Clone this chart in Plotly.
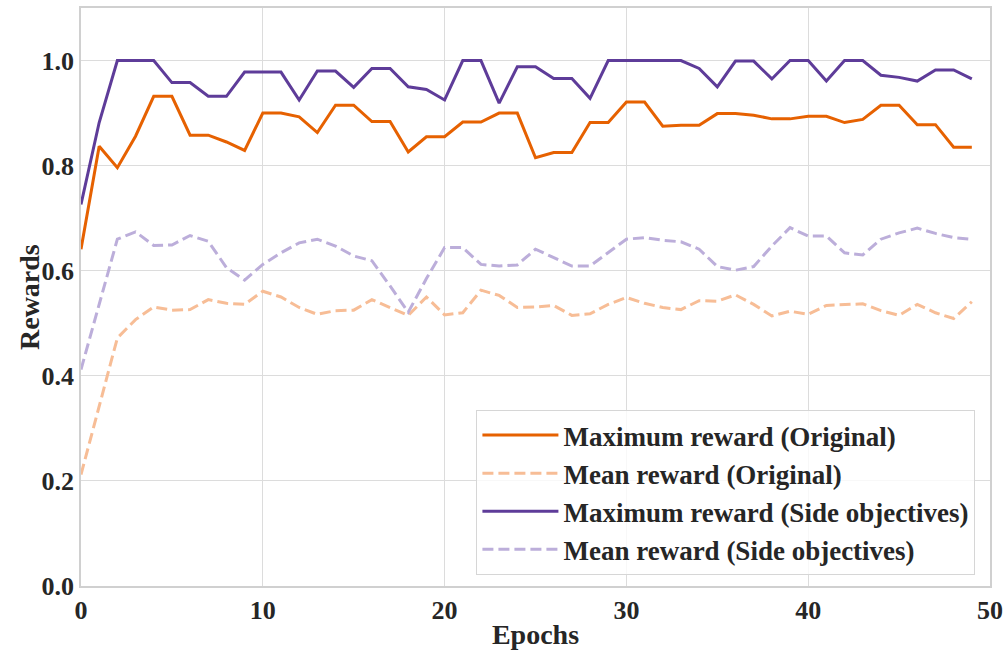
import plotly.graph_objects as go

epochs = list(range(50))

max_original = [0.641, 0.837, 0.796, 0.856, 0.932, 0.932, 0.858, 0.858, 0.845, 0.829,
                0.900, 0.900, 0.893, 0.863, 0.915, 0.915, 0.884, 0.884, 0.826, 0.855,
                0.855, 0.883, 0.883, 0.900, 0.900, 0.815, 0.825, 0.825, 0.882, 0.882,
                0.921, 0.921, 0.875, 0.877, 0.877, 0.899, 0.899, 0.896, 0.889, 0.889,
                0.894, 0.894, 0.882, 0.888, 0.915, 0.915, 0.878, 0.878, 0.835, 0.835]

mean_original = [0.212, 0.344, 0.472, 0.507, 0.531, 0.525, 0.526, 0.545, 0.538, 0.536,
                 0.561, 0.550, 0.530, 0.517, 0.524, 0.525, 0.545, 0.530, 0.515, 0.550,
                 0.516, 0.520, 0.563, 0.553, 0.530, 0.531, 0.534, 0.515, 0.518, 0.536,
                 0.549, 0.538, 0.530, 0.526, 0.543, 0.542, 0.554, 0.536, 0.514, 0.523,
                 0.517, 0.534, 0.536, 0.537, 0.524, 0.515, 0.536, 0.520, 0.509, 0.541]

max_side = [0.726, 0.882, 1.000, 1.000, 1.000, 0.958, 0.958, 0.932, 0.932, 0.978,
            0.978, 0.978, 0.925, 0.980, 0.980, 0.949, 0.985, 0.985, 0.950, 0.945,
            0.925, 1.000, 1.000, 0.919, 0.988, 0.988, 0.966, 0.966, 0.928, 1.000,
            1.000, 1.000, 1.000, 1.000, 0.985, 0.950, 0.999, 0.999, 0.965, 1.000,
            1.000, 0.961, 1.000, 1.000, 0.972, 0.968, 0.961, 0.982, 0.982, 0.965]

mean_side = [0.412, 0.535, 0.660, 0.674, 0.648, 0.649, 0.667, 0.656, 0.606, 0.582,
             0.612, 0.634, 0.653, 0.660, 0.647, 0.628, 0.619, 0.571, 0.521, 0.585,
             0.644, 0.644, 0.612, 0.609, 0.611, 0.641, 0.625, 0.609, 0.609, 0.634,
             0.660, 0.663, 0.658, 0.655, 0.641, 0.608, 0.601, 0.608, 0.647, 0.682,
             0.666, 0.666, 0.634, 0.630, 0.660, 0.672, 0.681, 0.671, 0.663, 0.660]

series = [
    ("Maximum reward (Original)", max_original, "#e66101", "solid"),
    ("Mean reward (Original)", mean_original, "rgb(247,189,150)", "11px,5px"),
    ("Maximum reward (Side objectives)", max_side, "#5e3c99", "solid"),
    ("Mean reward (Side objectives)", mean_side, "rgb(188,174,218)", "11px,5px"),
]

FONT = "Liberation Serif"
TXT = "#262626"

fig = go.Figure()
for name, vals, color, dash in series:
    fig.add_trace(go.Scatter(
        x=epochs, y=vals, mode="lines", name=name,
        line=dict(color=color, width=3, dash=dash),
    ))

fig.update_layout(
    width=1008, height=650,
    margin=dict(l=81, r=18, t=8, b=64, autoexpand=False),
    paper_bgcolor="white", plot_bgcolor="white",
    font=dict(family=FONT, color=TXT),
    showlegend=True,
    legend=dict(
        x=0.435, y=0.019, xanchor="left", yanchor="bottom",
        bgcolor="rgba(255,255,255,0.8)", bordercolor="#d6d6d6", borderwidth=1,
        font=dict(family=FONT, size=27, color=TXT, weight="bold"),
        tracegroupgap=0, itemwidth=76,
    ),
    xaxis=dict(
        range=[0, 50], tickvals=[0, 10, 20, 30, 40, 50],
        showgrid=True, gridcolor="#dcdcdc", gridwidth=1,
        showline=True, linecolor="#d0d0d0", linewidth=1.5, mirror=True,
        zeroline=False, ticks="", automargin=False,
        tickfont=dict(family=FONT, size=26, color=TXT, weight="bold"),
        title=dict(text="Epochs", standoff=0,
                   font=dict(family=FONT, size=28, color=TXT, weight="bold")),
    ),
    yaxis=dict(
        range=[0, 1.1], tickvals=[0.0, 0.2, 0.4, 0.6, 0.8, 1.0],
        tickformat=".1f",
        showgrid=True, gridcolor="#dcdcdc", gridwidth=1,
        showline=True, linecolor="#d0d0d0", linewidth=1.5, mirror=True,
        zeroline=False, ticks="", automargin=False,
        tickfont=dict(family=FONT, size=26, color=TXT, weight="bold"),
    ),
    annotations=[dict(
        text="Rewards", textangle=-90, showarrow=False,
        xref="paper", yref="paper", x=0, y=0.5, xanchor="center", yanchor="middle",
        xshift=-52,
        font=dict(family=FONT, size=28, color=TXT, weight="bold"),
    )],
)

fig.write_html(
    "out.html",
    config={"displayModeBar": False},
    post_script="document.body.style.margin='0';document.body.style.padding='0';",
)
